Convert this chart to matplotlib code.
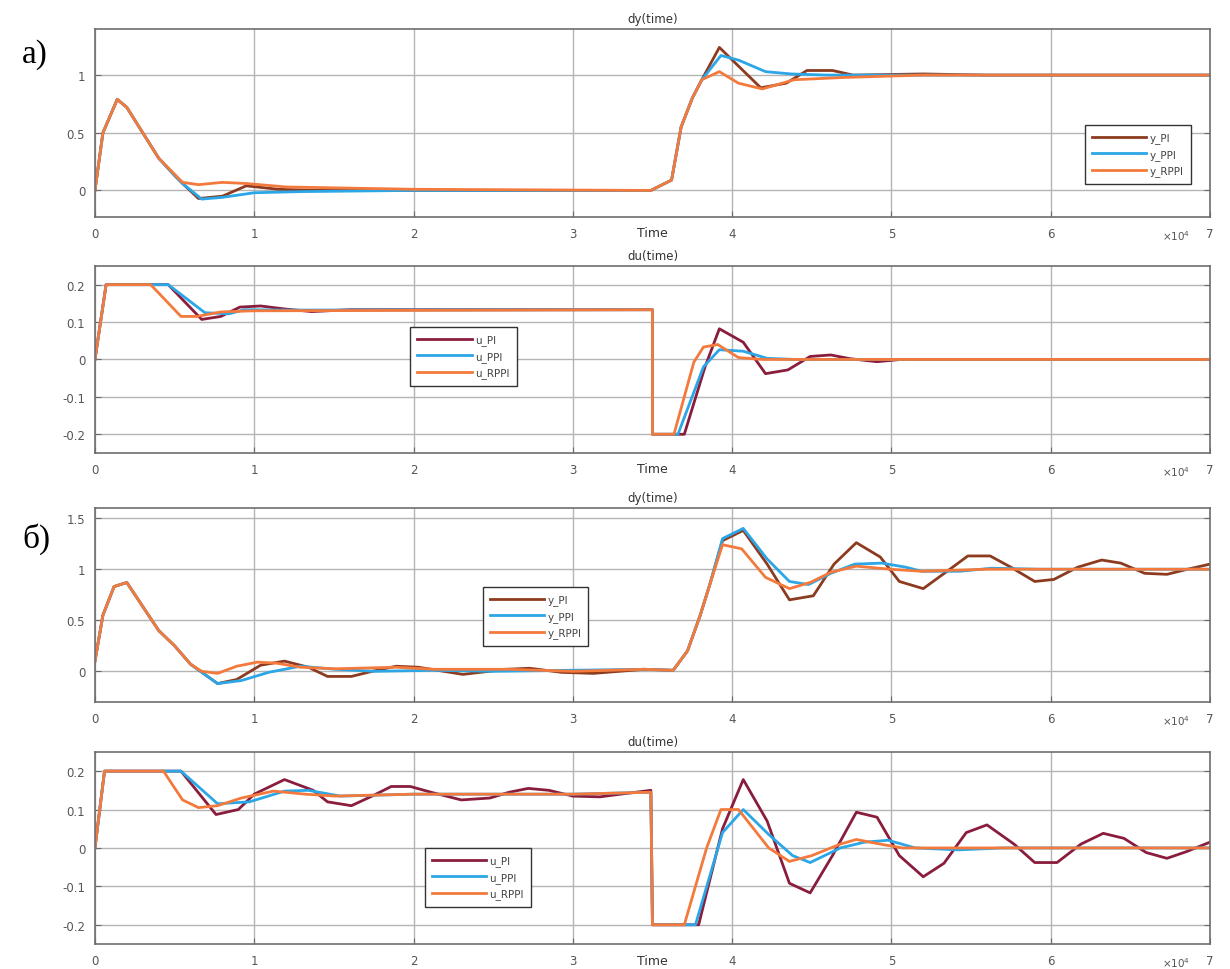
import matplotlib
matplotlib.use('Agg')
import matplotlib.pyplot as plt
import numpy as np

# time axis in units of 1e4 s (MATLAB shows "x10^4")
# ---- panel a), dy(time) ----
a_dy_pi_t = [0, 0.05, 0.14, 0.2, 0.3, 0.4, 0.5, 0.55, 0.65, 0.8, 0.95, 1.15, 1.4, 2.0,
             3.49, 3.62, 3.68, 3.75, 3.81, 3.92, 4.18, 4.34, 4.47, 4.63, 4.76, 5.2, 5.6, 7.0]
a_dy_pi = [0, 0.5, 0.79, 0.72, 0.5, 0.28, 0.13, 0.06, -0.07, -0.05, 0.04, 0.01, 0.0, 0.0,
           0.0, 0.09, 0.55, 0.8, 0.96, 1.24, 0.89, 0.93, 1.04, 1.04, 1.0, 1.01, 1.0, 1.0]
a_dy_ppi_t = [0, 0.05, 0.14, 0.2, 0.3, 0.4, 0.5, 0.55, 0.67, 0.8, 1.0, 1.3, 2.0,
              3.49, 3.62, 3.68, 3.75, 3.81, 3.93, 4.04, 4.21, 4.37, 4.6, 7.0]
a_dy_ppi = [0, 0.5, 0.79, 0.72, 0.5, 0.28, 0.13, 0.06, -0.075, -0.06, -0.02, -0.01, 0.0,
            0.0, 0.09, 0.55, 0.8, 0.96, 1.17, 1.13, 1.03, 1.01, 1.0, 1.0]
a_dy_rppi_t = [0, 0.05, 0.14, 0.2, 0.3, 0.4, 0.5, 0.55, 0.65, 0.8, 0.95, 1.2, 2.0,
               3.49, 3.62, 3.68, 3.75, 3.81, 3.92, 4.04, 4.19, 4.39, 4.71, 5.2, 7.0]
a_dy_rppi = [0, 0.5, 0.79, 0.72, 0.5, 0.28, 0.14, 0.07, 0.05, 0.07, 0.06, 0.03, 0.01,
             0.0, 0.09, 0.55, 0.8, 0.96, 1.03, 0.93, 0.88, 0.96, 0.98, 1.0, 1.0]

# ---- panel a), du(time) ----
a_du_pi_t = [0, 0.07, 0.46, 0.67, 0.79, 0.91, 1.04, 1.19, 1.36, 1.6, 3.5, 3.5, 3.70, 3.83, 3.92,
             4.07, 4.21, 4.35, 4.49, 4.62, 4.74, 4.91, 5.06, 7.0]
a_du_pi = [0, 0.2, 0.2, 0.107, 0.115, 0.14, 0.143, 0.135, 0.128, 0.133, 0.133, -0.2, -0.2, -0.02, 0.082,
           0.046, -0.038, -0.028, 0.008, 0.012, 0.002, -0.006, 0.0, 0.0]
a_du_ppi_t = [0, 0.07, 0.46, 0.69, 0.84, 0.94, 1.2, 3.5, 3.5, 3.66, 3.82, 3.92, 4.07, 4.22, 4.4, 7.0]
a_du_ppi = [0, 0.2, 0.2, 0.125, 0.122, 0.133, 0.132, 0.133, -0.2, -0.2, -0.02, 0.026, 0.022, 0.003,
            0.0, 0.0]
a_du_rppi_t = [0, 0.07, 0.35, 0.54, 0.64, 0.79, 0.99, 3.5, 3.5, 3.635, 3.76, 3.82, 3.91, 4.04, 4.19, 7.0]
a_du_rppi = [0, 0.2, 0.2, 0.115, 0.115, 0.127, 0.13, 0.133, -0.2, -0.2, -0.007, 0.033, 0.04, 0.005,
             0.0, 0.0]

# ---- panel б), dy(time) ----
b_dy_pi_t = [0, 0.05, 0.12, 0.2, 0.4, 0.5, 0.6, 0.77, 0.89, 1.04, 1.19, 1.34, 1.46, 1.61, 1.74,
             1.89, 2.03, 2.31, 2.58, 2.73, 2.93, 3.13, 3.45, 3.63, 3.72, 3.80, 3.86, 3.94, 4.07,
             4.22, 4.36, 4.51, 4.64, 4.78, 4.93, 5.05, 5.2, 5.35, 5.48, 5.62, 5.75, 5.9, 6.02,
             6.17, 6.32, 6.44, 6.59, 6.73, 6.86, 7.0]
b_dy_pi = [0.1, 0.55, 0.83, 0.87, 0.4, 0.25, 0.07, -0.12, -0.08, 0.06, 0.1, 0.04, -0.05, -0.05, 0.0,
           0.05, 0.04, -0.03, 0.02, 0.03, -0.01, -0.02, 0.02, 0.01, 0.2, 0.55, 0.85, 1.28, 1.38,
           1.05, 0.7, 0.74, 1.05, 1.26, 1.12, 0.88, 0.81, 0.98, 1.13, 1.13, 1.02, 0.88, 0.9,
           1.02, 1.09, 1.06, 0.96, 0.95, 1.0, 1.05]
b_dy_ppi_t = [0, 0.05, 0.12, 0.2, 0.4, 0.5, 0.6, 0.77, 0.92, 1.09, 1.29, 1.51, 1.76, 2.13, 2.5,
              3.45, 3.63, 3.72, 3.80, 3.86, 3.94, 4.07, 4.22, 4.36, 4.48, 4.62, 4.77, 4.94, 5.09,
              5.19, 5.43, 5.63, 5.93, 7.0]
b_dy_ppi = [0.1, 0.55, 0.83, 0.87, 0.4, 0.25, 0.07, -0.12, -0.09, -0.01, 0.05, 0.02, 0.0, 0.01, 0.0,
            0.02, 0.01, 0.2, 0.55, 0.85, 1.3, 1.4, 1.1, 0.88, 0.85, 0.96, 1.05, 1.06, 1.02,
            0.98, 0.98, 1.01, 1.0, 1.0]
b_dy_rppi_t = [0, 0.05, 0.12, 0.2, 0.4, 0.5, 0.6, 0.67, 0.77, 0.89, 1.02, 1.14, 1.29, 1.51, 1.89,
               2.13, 2.6, 3.0, 3.45, 3.63, 3.72, 3.80, 3.86, 3.94, 4.06, 4.21, 4.36, 4.49, 4.62,
               4.78, 4.99, 5.19, 5.6, 6.2, 7.0]
b_dy_rppi = [0.1, 0.55, 0.83, 0.87, 0.4, 0.25, 0.07, 0.0, -0.02, 0.05, 0.09, 0.08, 0.04, 0.025, 0.04,
             0.02, 0.02, 0.0, 0.02, 0.01, 0.2, 0.55, 0.85, 1.24, 1.2, 0.92, 0.81, 0.87, 0.97,
             1.03, 1.0, 0.98, 1.0, 1.0, 1.0]

# ---- panel б), du(time) ----
b_du_pi_t = [0, 0.06, 0.54, 0.76, 0.9, 1.0, 1.19, 1.37, 1.46, 1.61, 1.74, 1.86, 1.98, 2.11, 2.30,
             2.48, 2.6, 2.72, 2.85, 3.0, 3.17, 3.3, 3.49, 3.5, 3.79, 3.94, 4.07, 4.22, 4.36, 4.49,
             4.63, 4.78, 4.91, 5.05, 5.2, 5.33, 5.47, 5.6, 5.77, 5.9, 6.04, 6.19, 6.33, 6.46,
             6.6, 6.73, 6.85, 7.0]
b_du_pi = [0, 0.2, 0.2, 0.087, 0.1, 0.14, 0.178, 0.15, 0.12, 0.11, 0.135, 0.16, 0.16, 0.145, 0.125,
           0.13, 0.145, 0.155, 0.15, 0.135, 0.133, 0.14, 0.15, -0.2, -0.2, 0.05, 0.178, 0.07,
           -0.092, -0.117, -0.02, 0.093, 0.08, -0.02, -0.075, -0.04, 0.04, 0.06, 0.01, -0.038,
           -0.038, 0.01, 0.038, 0.025, -0.012, -0.027, -0.01, 0.015]
b_du_ppi_t = [0, 0.06, 0.54, 0.77, 0.97, 1.19, 1.34, 1.54, 2.0, 3.0, 3.49, 3.5, 3.77, 3.94, 4.07,
              4.23, 4.38, 4.49, 4.68, 4.83, 4.98, 5.15, 5.42, 5.7, 7.0]
b_du_ppi = [0, 0.2, 0.2, 0.115, 0.12, 0.148, 0.15, 0.135, 0.14, 0.14, 0.145, -0.2, -0.2, 0.04, 0.1,
            0.035, -0.02, -0.038, 0.0, 0.015, 0.02, 0.0, -0.005, 0.0, 0.0]
b_du_rppi_t = [0, 0.06, 0.43, 0.55, 0.65, 0.77, 0.92, 1.12, 1.32, 1.51, 2.0, 3.0, 3.49, 3.5, 3.70,
               3.84, 3.93, 4.04, 4.23, 4.36, 4.5, 4.68, 4.78, 4.93, 5.07, 7.0]
b_du_rppi = [0, 0.2, 0.2, 0.125, 0.105, 0.11, 0.13, 0.148, 0.14, 0.135, 0.14, 0.14, 0.145, -0.2, -0.2,
             0.0, 0.1, 0.1, 0.0, -0.035, -0.02, 0.01, 0.022, 0.01, 0.0, 0.0]

c_pi_y = '#8c3b1f'
c_pi_u = '#8a1c3c'
c_ppi = '#2ba6e6'
c_rppi = '#f37a3c'

fig = plt.figure(figsize=(12.3, 9.7), dpi=100)

panels = [
    # rect, title, data, labels, ylim, yticks, legend box (x0, y0 in axes frac), time label
    ([0.0772, 0.7753, 0.9065, 0.1938], 'dy(time)',
     [(a_dy_pi_t, a_dy_pi, c_pi_y), (a_dy_ppi_t, a_dy_ppi, c_ppi), (a_dy_rppi_t, a_dy_rppi, c_rppi)],
     ['y_PI', 'y_PPI', 'y_RPPI'], (-0.23, 1.4), [0, 0.5, 1], (0.883, 0.149), True),
    ([0.0772, 0.5320, 0.9065, 0.1928], 'du(time)',
     [(a_du_pi_t, a_du_pi, c_pi_u), (a_du_ppi_t, a_du_ppi, c_ppi), (a_du_rppi_t, a_du_rppi, c_rppi)],
     ['u_PI', 'u_PPI', 'u_RPPI'], (-0.25, 0.25), [-0.2, -0.1, 0, 0.1, 0.2], (0.278, 0.332), True),
    ([0.0772, 0.2753, 0.9065, 0.2000], 'dy(time)',
     [(b_dy_pi_t, b_dy_pi, c_pi_y), (b_dy_ppi_t, b_dy_ppi, c_ppi), (b_dy_rppi_t, b_dy_rppi, c_rppi)],
     ['y_PI', 'y_PPI', 'y_RPPI'], (-0.3, 1.6), [0, 0.5, 1, 1.5], (0.343, 0.263), False),
    ([0.0772, 0.0258, 0.9065, 0.1980], 'du(time)',
     [(b_du_pi_t, b_du_pi, c_pi_u), (b_du_ppi_t, b_du_ppi, c_ppi), (b_du_rppi_t, b_du_rppi, c_rppi)],
     ['u_PI', 'u_PPI', 'u_RPPI'], (-0.25, 0.25), [-0.2, -0.1, 0, 0.1, 0.2], (0.291, 0.167), True),
]

for rect, title, series, labels, ylim, yticks, leg_pos, show_time in panels:
    ax = fig.add_axes(rect)
    for (t, y, c), lab in zip(series, labels):
        ax.plot(np.array(t) * 1e4, y, color=c, lw=2.0, label=lab)
    ax.set_xlim(0, 7e4)
    ax.set_ylim(*ylim)
    ax.set_xticks(np.arange(0, 8) * 1e4)
    ax.set_xticklabels([str(i) for i in range(8)])
    ax.set_yticks(yticks)
    ax.set_yticklabels([('%g' % v) for v in yticks])
    ax.grid(True, color='#b4b4b4', lw=1.0)
    ax.tick_params(direction='in', length=4, width=0.8, colors='#6a6a6a',
                   labelsize=8.5, labelcolor='#555555', top=False, right=True, pad=7)
    for sp in ax.spines.values():
        sp.set_color('#6e6e6e')
        sp.set_linewidth(1.2)
    ax.set_title(title, fontsize=8.5, color='#333333', pad=5)
    ax.text(0.982, -0.095, r'$\times 10^4$', transform=ax.transAxes, fontsize=7.5,
            color='#555555', ha='right', va='center')
    if show_time:
        ax.text(0.5, -0.085, 'Time', transform=ax.transAxes, fontsize=9,
                color='#333333', ha='center', va='center')
    leg = ax.legend(loc='lower left', bbox_to_anchor=leg_pos, fontsize=7.5, frameon=True,
                    fancybox=False, framealpha=1, edgecolor='#333333', handlelength=5.2,
                    handletextpad=0.3, labelspacing=0.55, borderpad=0.7)
    leg.get_frame().set_linewidth(1.0)
    for txt in leg.get_texts():
        txt.set_color('#444444')

fig.text(0.018, 0.935, 'а)', fontsize=24, family='Liberation Serif')
fig.text(0.018, 0.435, 'б)', fontsize=24, family='Liberation Serif')

fig.savefig('out.png', dpi=100)
